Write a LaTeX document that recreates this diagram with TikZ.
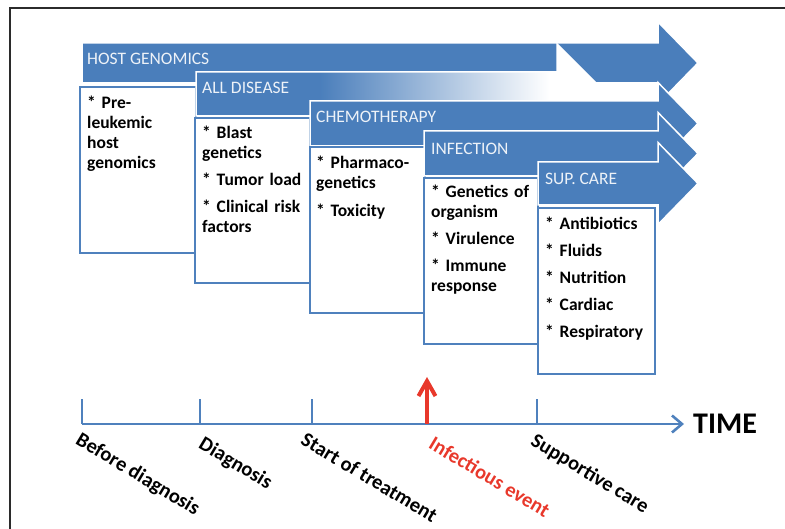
\documentclass[tikz,border=0pt]{standalone}
\usepackage{fontspec}
\setmainfont{Carlito}
\usetikzlibrary{arrows.meta}
\definecolor{arrowblue}{HTML}{4A7EBB}
\definecolor{lineblue}{HTML}{4F81BD}
\definecolor{eventred}{HTML}{E8382B}
\definecolor{framegray}{HTML}{2B2B2B}
% blue bar that fades out to white towards its head
\pgfdeclarehorizontalshading{fadebar}{100bp}{color(0bp)=(arrowblue); color(40bp)=(arrowblue); color(68bp)=(white); color(100bp)=(white)}

\begin{document}
\begin{tikzpicture}[x=1pt, y=1pt,
  phase/.style={fill=arrowblue, draw=white, line width=1.5pt, line join=miter},
  fadephase/.style={shading=fadebar, draw=white, line width=1.5pt, line join=miter},
  phaselabel/.style={anchor=base west, inner sep=0pt, text=white!90!arrowblue,
    font=\fontsize{17.5}{20}\selectfont},
  itembox/.style={draw=lineblue, fill=white, line width=2pt},
  items/.style={anchor=base west, inner sep=0pt, text width=110pt, align=left,
    font=\bfseries\fontsize{17.5}{20}\selectfont},
  axis/.style={draw=lineblue, line width=2.6pt},
  milestone/.style={anchor=north west, inner sep=0pt, rotate=-31,
    font=\bfseries\fontsize{20.5}{24}\selectfont}
]
\useasboundingbox (0,0) rectangle (785,-529);
\clip (0,0) rectangle (785,-529);

% outer frame (only its top and left edges lie on the page)
\draw[framegray, line width=2pt] (10,-560) -- (10,-8) -- (820,-8);

% ---- host genomics ----
\path[phase] (82,-43) -- (658,-43) -- (658,-22) -- (698,-63) -- (658,-104)
  -- (658,-83) -- (82,-83) -- cycle;
\node[phaselabel] (hostlbl) at (87,-64.5) {HOST GENOMICS};
\draw[itembox] (80,-87) rectangle (196,-253);
\node[items] (hostitems) at (87,-109) {* Pre-\\leukemic\\host\\genomics};

% ---- disease ----
\path[fadephase] (196,-72) -- (557,-72) -- (557,-44) -- (607,-94) -- (557,-144)
  -- (557,-116) -- (196,-116) -- cycle;
\node[phaselabel] (alllbl) at (202,-94) {ALL DISEASE};
\draw[itembox] (195,-118) rectangle (310,-283);
\node[items] (allitems) at (202,-139)
  {* Blast\\genetics\\[7pt]* Tumor load\\[7pt]* Clinical risk\\factors};

% ---- chemotherapy ----
\path[phase] (310,-101) -- (658,-101) -- (658,-82.5) -- (698,-123.5) -- (658,-164.5)
  -- (658,-146) -- (310,-146) -- cycle;
\node[phaselabel] (chemolbl) at (316,-123) {CHEMOTHERAPY};
\draw[itembox] (310,-147) rectangle (425,-313);
\node[items] (chemoitems) at (316,-168.5) {* Pharmaco-\\genetics\\[8pt]* Toxicity};

% ---- infection ----
\path[phase] (424,-131) -- (658,-131) -- (658,-112.5) -- (698,-153.5) -- (658,-194.5)
  -- (658,-176) -- (424,-176) -- cycle;
\node[phaselabel] (inflbl) at (431,-155) {INFECTION};
\draw[itembox] (424,-178) rectangle (538,-344);
\node[items] (infitems) at (431,-197.5)
  {* Genetics of\\organism\\[7pt]* Virulence\\[7pt]* Immune\\response};

% ---- supportive care ----
\path[phase] (538,-162) -- (658,-162) -- (658,-142.5) -- (698,-183.5) -- (658,-224.5)
  -- (658,-205) -- (538,-205) -- cycle;
\node[phaselabel] (carelbl) at (545,-185) {SUP. CARE};
\draw[itembox] (538,-208) rectangle (655,-374);
\node[items] (careitems) at (545,-229.5)
  {* Antibiotics\\[7pt]* Fluids\\[7pt]* Nutrition\\[7pt]* Cardiac\\[7pt]* Respiratory};

% ---- time axis ----
\coordinate (tstart) at (82,-424);
\coordinate (tend) at (684,-424);
\coordinate (mdiag) at (200,-424);
\coordinate (mtreat) at (312,-424);
\coordinate (mevent) at (427,-424);
\coordinate (mcare) at (537,-424);
\draw[axis, -{Straight Barb[length=10pt, width=17pt]}] (tstart) -- (tend);
\draw[axis] (tstart) -- ++(0,25);
\draw[axis] (mdiag) -- ++(0,25);
\draw[axis] (mtreat) -- ++(0,25);
\draw[axis] (mcare) -- ++(0,25);
\coordinate (eventtip) at (427,-377);
\draw[eventred, line width=4pt, -{Straight Barb[length=15pt, width=17pt]}] (mevent) -- (eventtip);
\node[anchor=base west, inner sep=0pt, font=\bfseries\fontsize{30}{34}\selectfont] (timelbl)
  at (693,-433) {TIME};

% milestone captions
\node[milestone] (lbefore) at (82,-431) {Before diagnosis};
\node[milestone] (ldiag) at (205,-435) {Diagnosis};
\node[milestone] (ltreat) at (307,-431) {Start of treatment};
\node[milestone, text=eventred] (levent) at (435,-435) {Infectious event};
\node[milestone] (lcare) at (537,-432) {Supportive care};
\end{tikzpicture}
\end{document}
